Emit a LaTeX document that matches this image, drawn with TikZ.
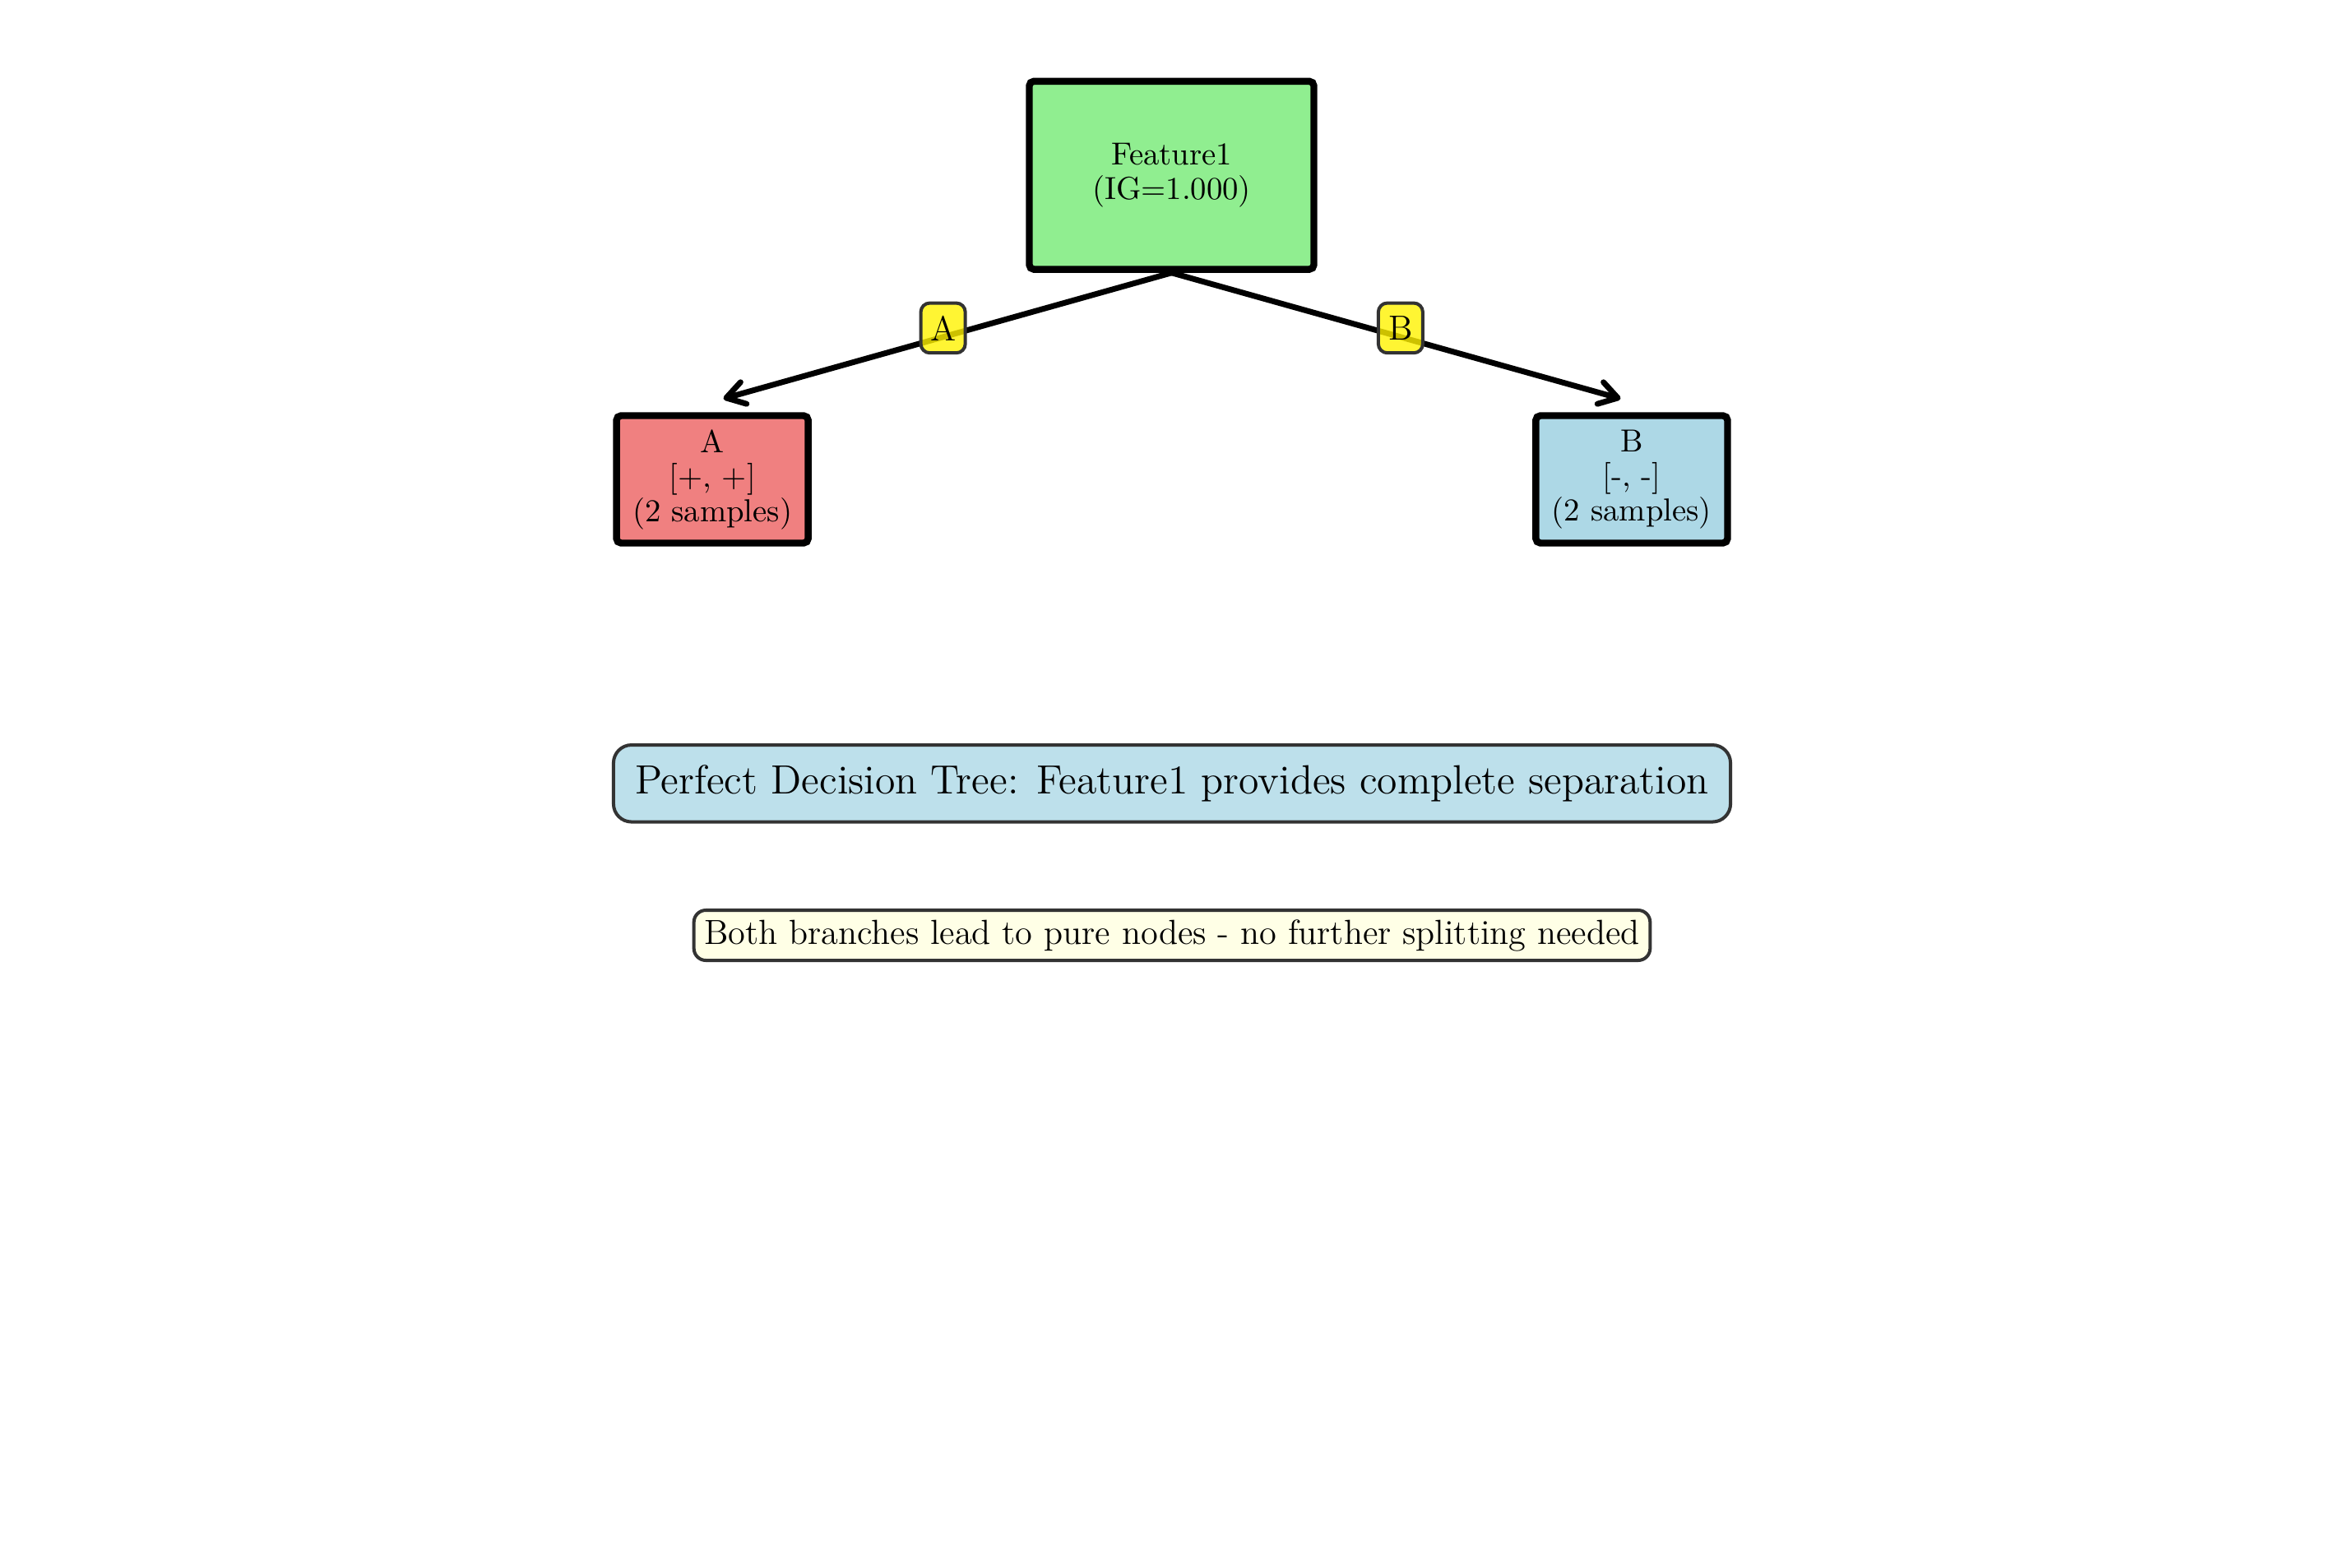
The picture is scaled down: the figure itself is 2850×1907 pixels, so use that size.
\documentclass[tikz,border=0pt]{standalone}
\usetikzlibrary{arrows.meta}
\definecolor{lightgreen}{HTML}{90EE90}
\definecolor{lightcoral}{HTML}{F08080}
\definecolor{lightblue}{HTML}{ADD8E6}
\definecolor{lightyellow}{HTML}{FFFFE0}
\definecolor{edgegray}{HTML}{333333}
\begin{document}
\begin{tikzpicture}[x=0.27368pt, y=-0.27368pt,
  main/.style = {draw, line width=2.3pt, rounded corners=1.5pt, align=center, inner sep=0pt, font=\fontsize{10.6}{11.5}\selectfont},
  leaf/.style = {main, minimum width=63.8pt, minimum height=42.4pt},
  branch/.style = {line width=1.9pt, line cap=round, -{Straight Barb[length=6pt,width=7.5pt,round]}},
  elabel/.style = {draw=edgegray, line width=1.1pt, fill=yellow, fill opacity=0.8, text opacity=1, rounded corners=3pt, minimum width=14.8pt, minimum height=16.6pt, inner sep=1pt, font=\fontsize{11.6}{13}\selectfont},
  note/.style = {draw=edgegray, line width=1.1pt, align=center}]
        \useasboundingbox (0,0) rectangle (2850,1907);
        \node[main, fill=lightgreen, minimum width=94.7pt, minimum height=62.6pt] (root) at (1424.5,213.2) {Feature1\\(IG=1.000)};
        \node[leaf, fill=lightcoral] (a) at (866.1,583) {A\\{[}+, +{]}\\(2 samples)};
        \node[leaf, fill=lightblue] (b) at (1983.9,583) {B\\{[}-, -{]}\\(2 samples)};
        %
        \draw[branch] (root.south) -- node[elabel, pos=0.51, yshift=3pt] {A} ([xshift=3.7pt,yshift=4.5pt]a.north);
        \draw[branch] (root.south) -- node[elabel, pos=0.51, yshift=3pt] {B} ([xshift=-3.7pt,yshift=4.5pt]b.north);
        %
        \node[note, fill=lightblue!80, rounded corners=6pt, minimum width=371.7pt, minimum height=25.6pt, font=\fontsize{13.6}{16}\selectfont] (title) at (1425,952.8) {Perfect Decision Tree: Feature1 provides complete separation};
        \node[note, fill=lightyellow!80, rounded corners=4pt, minimum width=318.2pt, minimum height=16.7pt, inner sep=2pt, font=\fontsize{11.6}{13}\selectfont] (info) at (1425,1137.5) {Both branches lead to pure nodes - no further splitting needed};
      \end{tikzpicture}
\end{document}
